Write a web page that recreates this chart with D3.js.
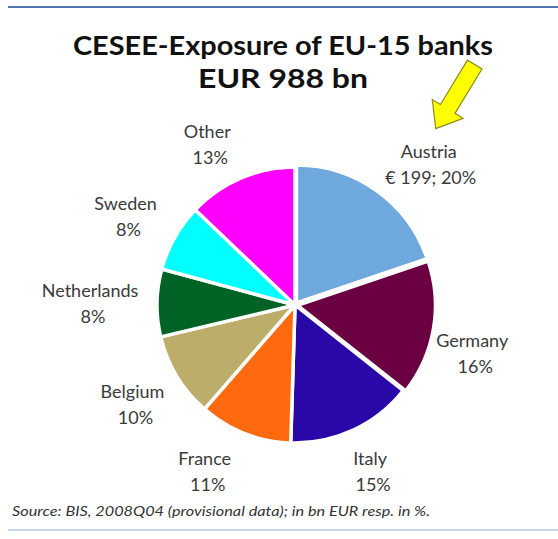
<!DOCTYPE html>
<html>
<head>
<meta charset="utf-8">
<script src="https://cdn.jsdelivr.net/npm/d3@7"></script>
<style>
  html, body { margin: 0; padding: 0; background: #ffffff; }
  svg { display: block; }
</style>
</head>
<body>
<script>
// ---- data ----
const categories = ["Austria", "Germany", "Italy", "France", "Belgium", "Netherlands", "Sweden", "Other"];
const shares = [20, 16, 15, 11, 10, 8, 8, 13];          // in %
const amountsBn = [199, null, null, null, null, null, null, null]; // in bn EUR (only Austria shown)
const sliceColors = ["#6fa8dc", "#6a0042", "#2a08a8", "#ff6a0e", "#bcae6a", "#006224", "#00ffff", "#ff00ff"];
const titleLines = ["CESEE-Exposure of EU-15 banks", "EUR 988 bn"];
const sourceNote = "Source: BIS, 2008Q04 (provisional data); in bn EUR resp. in %.";

// ---- layout ----
const W = 558, H = 539;
const cx = 295, cy = 305, R = 138;
const labelR = 190;
const labelNudge = [[23, 13], [-10, 16], [-5, -6], [-21, -11], [0, 1], [-15, 1], [-4, 4], [-13, 14]];
const explode = [2.5, 2.5, 0, 0, 0, 0, 0, 0];

const data = categories.map((c, i) => ({ name: c, share: shares[i], bn: amountsBn[i], color: sliceColors[i], i }));

const svg = d3.select("body").append("svg").attr("width", W).attr("height", H);

// frame lines
svg.append("line").attr("x1", 8).attr("x2", W).attr("y1", 7).attr("y2", 7)
  .attr("stroke", "#4f74a8").attr("stroke-width", 2);
svg.append("line").attr("x1", 8).attr("x2", W).attr("y1", 530).attr("y2", 530)
  .attr("stroke", "#b4cbe8").attr("stroke-width", 1.5);

// title
const titleY = [55, 88];
const titleLen = [420, 170];
titleLines.forEach((t, k) => {
  svg.append("text").attr("x", 283).attr("y", titleY[k])
    .attr("text-anchor", "middle")
    .attr("font-family", "Lato, 'Open Sans', sans-serif")
    .attr("font-weight", "bold").attr("font-size", 27)
    .attr("fill", "#111")
    .attr("textLength", titleLen[k]).attr("lengthAdjust", "spacingAndGlyphs")
    .text(t);
});

// pie
const pie = d3.pie().sort(null).value(d => d.share);
const arcs = pie(data);
const arc = d3.arc().innerRadius(0).outerRadius(R);
const labelArc = d3.arc().innerRadius(labelR).outerRadius(labelR);

const g = svg.append("g").attr("transform", `translate(${cx},${cy})`);
g.selectAll("path.slice").data(arcs).enter().append("path")
  .attr("class", "slice")
  .attr("d", arc)
  .attr("transform", d => {
    const a = (d.startAngle + d.endAngle) / 2;
    const e = explode[d.data.i];
    return `translate(${Math.sin(a) * e},${-Math.cos(a) * e})`;
  })
  .attr("fill", d => d.data.color)
  .attr("stroke", "#ffffff").attr("stroke-width", 3.5).attr("stroke-linejoin", "round");

// labels
const lab = g.selectAll("g.lab").data(arcs).enter().append("g").attr("class", "lab")
  .attr("transform", d => {
    const [x, y] = labelArc.centroid(d);
    const n = labelNudge[d.data.i];
    return `translate(${x + n[0]},${y + n[1]})`;
  });
const labFont = "Lato, 'Open Sans', sans-serif";
lab.append("text").attr("y", -6).attr("text-anchor", "middle")
  .attr("font-family", labFont).attr("font-size", 18).attr("fill", "#3a3a3a")
  .text(d => d.data.name);
lab.append("text").attr("y", 20).attr("text-anchor", "middle")
  .attr("dx", d => d.data.bn ? 2 : 3)
  .attr("font-family", labFont).attr("font-size", 18).attr("fill", "#3a3a3a")
  .text(d => d.data.bn ? `€ ${d.data.bn}; ${d.data.share}%` : `${d.data.share}%`);

// arrow pointing at Austria label
(function () {
  const austria = arcs[0];
  const [lx, ly] = labelArc.centroid(austria);
  const tip = [cx + lx + labelNudge[0][0] + 7, cy + ly + labelNudge[0][1] - 35];
  const tail = [tip[0] + 39, tip[1] - 64];
  const vx = tail[0] - tip[0], vy = tail[1] - tip[1];
  const L = Math.hypot(vx, vy);
  const u = [vx / L, vy / L], n = [-u[1], u[0]];
  const hl = 23, hw = 18, sw = 8.5;
  const base = [tip[0] + u[0] * hl, tip[1] + u[1] * hl];
  const pts = [
    tip,
    [base[0] + n[0] * hw, base[1] + n[1] * hw],
    [base[0] + n[0] * sw, base[1] + n[1] * sw],
    [tail[0] + n[0] * sw, tail[1] + n[1] * sw],
    [tail[0] - n[0] * sw, tail[1] - n[1] * sw],
    [base[0] - n[0] * sw, base[1] - n[1] * sw],
    [base[0] - n[0] * hw, base[1] - n[1] * hw]
  ];
  svg.append("path").attr("d", d3.line()(pts) + "Z")
    .attr("fill", "#ffff00").attr("stroke", "#8a8a20").attr("stroke-width", 1.2)
    .attr("stroke-linejoin", "miter");
})();

// source note
svg.append("text").attr("x", 12).attr("y", 516)
  .attr("font-family", labFont).attr("font-style", "italic").attr("font-size", 13)
  .attr("fill", "#333")
  .attr("textLength", 418).attr("lengthAdjust", "spacingAndGlyphs")
  .text(sourceNote);
</script>
</body>
</html>
